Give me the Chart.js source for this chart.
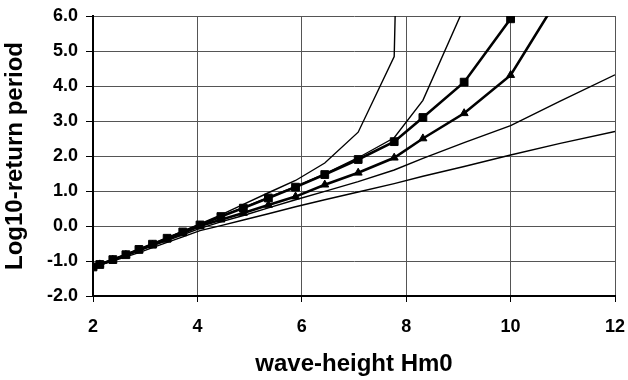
<!DOCTYPE html>
<html>
<head>
<meta charset="utf-8">
<script src="https://cdn.jsdelivr.net/npm/chart.js@4"></script>
<style>
  body { margin: 0; background: #fff; }
</style>
</head>
<body>
<canvas id="myChart" width="628" height="380"></canvas>
<script>
// wave heights (shared x values)
const waveHeight = [2.0, 2.13, 2.38, 2.63, 2.88, 3.14, 3.42, 3.72, 4.05, 4.45, 4.88, 5.36, 5.88, 6.44, 7.08, 7.77, 8.32, 9.11, 10.0, 10.95, 12.0];

// log10 return period per curve
const squareSeries   = [-1.17, -1.10, -0.96, -0.82, -0.67, -0.52, -0.35, -0.17, 0.03, 0.27, 0.51, 0.80, 1.11, 1.47, 1.90, 2.41, 3.10, 4.11, 5.92, null, null];
const triangleSeries = [-1.17, -1.10, -0.97, -0.83, -0.69, -0.54, -0.38, -0.20, 0.00, 0.18, 0.37, 0.60, 0.84, 1.18, 1.52, 1.95, 2.50, 3.22, 4.31, 6.60, null];
const thinA = [-1.17, -1.10, -0.96, -0.82, -0.67, -0.51, -0.34, -0.15, 0.06, 0.32, 0.62, 0.95, 1.30, 1.80, 2.68, 4.84, 40.0, null, null, null, null];
const thinB = [-1.17, -1.10, -0.96, -0.82, -0.67, -0.52, -0.35, -0.16, 0.04, 0.28, 0.53, 0.82, 1.13, 1.49, 1.95, 2.52, 3.59, 6.25, 12.0, null, null];
const thinC = [-1.17, -1.10, -0.98, -0.85, -0.71, -0.57, -0.42, -0.25, -0.07, 0.12, 0.30, 0.52, 0.75, 0.99, 1.27, 1.60, 1.93, 2.38, 2.87, 3.57, 4.32];
const thinD = [-1.18, -1.12, -1.00, -0.88, -0.76, -0.62, -0.47, -0.31, -0.13, 0.01, 0.17, 0.35, 0.55, 0.75, 0.97, 1.21, 1.42, 1.70, 2.03, 2.36, 2.70];

const xTicks = [2, 4, 6, 8, 10, 12];
const yTicks = [-2, -1, 0, 1, 2, 3, 4, 5, 6];

function pts(vals) {
    return waveHeight.map((x, i) => ({ x: x, y: vals[i] }));
}

function thin(vals) {
    return { data: pts(vals), borderColor: '#000', borderWidth: 1.4, pointRadius: 0, fill: false, tension: 0 };
}

function thick(vals, style, r) {
    return {
        data: pts(vals), borderColor: '#000', borderWidth: 2.6, fill: false, tension: 0,
        pointStyle: style, pointRadius: r, pointBackgroundColor: '#000', pointBorderColor: '#000', pointBorderWidth: 1
    };
}

const tickFont = { family: '"Liberation Sans", Arial, sans-serif', size: 18, weight: 'bold' };
const titleFont = { family: '"Liberation Sans", Arial, sans-serif', size: 24, weight: 'bold' };

const ctx = document.getElementById('myChart');
const myChart = new Chart(ctx, {
    type: 'line',
    data: {
        datasets: [
            thin(thinA),
            thin(thinB),
            thin(thinC),
            thin(thinD),
            thick(triangleSeries, 'triangle', 4.6),
            thick(squareSeries, 'rect', 5.5)
        ]
    },
    options: {
        responsive: false,
        animation: false,
        layout: { padding: { top: 16, right: 13, bottom: 0, left: 0 } },
        plugins: { legend: { display: false }, tooltip: { enabled: false } },
        scales: {
            x: {
                type: 'linear',
                min: 2, max: 12,
                afterBuildTicks: (axis) => { axis.ticks = xTicks.map(v => ({ value: v })); },
                afterFit: (axis) => { axis.height = 84; axis.paddingLeft = 0; axis.paddingRight = 0; },
                grid: { color: '#555', lineWidth: 1, tickLength: 6, tickColor: '#000' },
                border: { color: '#000', width: 2 },
                ticks: { color: '#000', font: tickFont, padding: 14, maxRotation: 0 },
                title: { display: true, text: 'wave-height Hm0', color: '#000', font: titleFont, padding: { top: 0, bottom: 1 } }
            },
            y: {
                min: -2, max: 6,
                afterBuildTicks: (axis) => { axis.ticks = yTicks.map(v => ({ value: v })); },
                afterFit: (axis) => { axis.width = 93; axis.paddingTop = 0; axis.paddingBottom = 0; },
                grid: { color: '#555', lineWidth: 1, tickLength: 7, tickColor: '#000' },
                border: { color: '#000', width: 2 },
                ticks: { color: '#000', font: tickFont, padding: 8, callback: (v) => Number(v).toFixed(1) },
                title: { display: true, text: 'Log10-return period', color: '#000', font: titleFont, padding: { top: 1, bottom: 0 } }
            }
        }
    }
});
</script>
</body>
</html>
